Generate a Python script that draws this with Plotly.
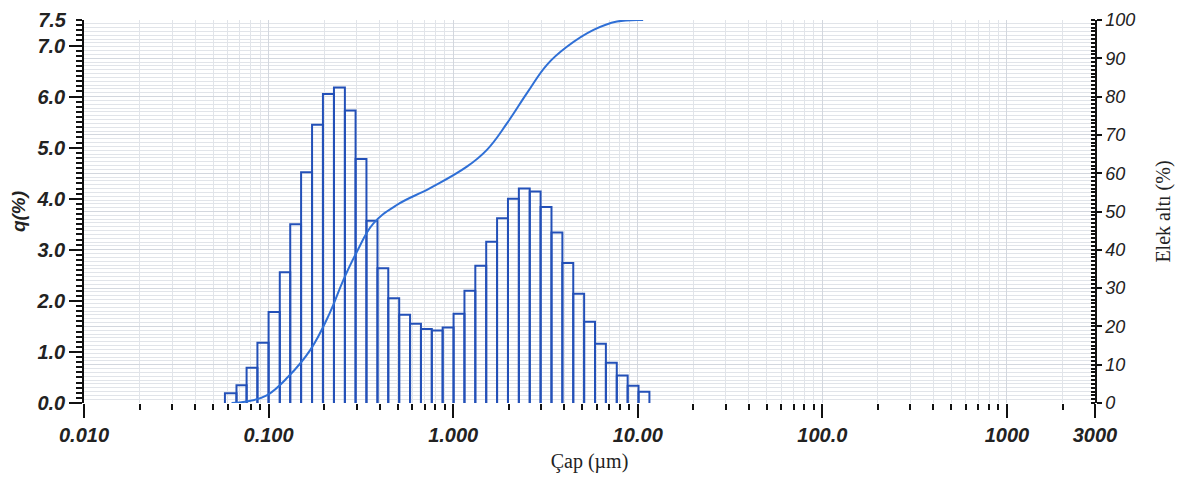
import plotly.graph_objects as go

# ---- data ----
bin_edges = [0.058, 0.067, 0.076, 0.087, 0.100, 0.115, 0.131, 0.150, 0.172, 0.197,
             0.226, 0.259, 0.296, 0.339, 0.389, 0.445, 0.510, 0.584, 0.669, 0.766,
             0.877, 1.005, 1.151, 1.318, 1.510, 1.729, 1.981, 2.269, 2.599, 2.976,
             3.409, 3.905, 4.472, 5.122, 5.867, 6.720, 7.697, 8.816, 10.097, 11.565]
q_values = [0.19, 0.35, 0.69, 1.18, 1.78, 2.56, 3.50, 4.52, 5.45, 6.05,
            6.18, 5.73, 4.78, 3.57, 2.64, 2.05, 1.73, 1.55, 1.45, 1.42,
            1.48, 1.75, 2.20, 2.69, 3.16, 3.62, 4.00, 4.20, 4.14, 3.84,
            3.34, 2.74, 2.14, 1.59, 1.16, 0.79, 0.54, 0.34, 0.22]

cum_size = [0.063, 0.076, 0.0977, 0.128, 0.168, 0.215, 0.254, 0.301, 0.370, 0.495,
            0.750, 1.186, 1.523, 1.955, 2.51, 3.22, 4.13, 5.76, 7.71, 10.7]
cum_pct = [0, 0.4, 2.0, 6.9, 13.8, 23.6, 32.1, 39.5, 46.9, 51.7,
           56.1, 61.7, 66.1, 73.0, 80.9, 88.3, 93.0, 97.4, 99.6, 100.0]

x_tickvals = [0.01, 0.1, 1, 10, 100, 1000, 3000]
x_ticktext = ["0.010", "0.100", "1.000", "10.00", "100.0", "1000", "3000"]
y_top_tick = [7.5]
y_top_text = ["7.5"]

BAR_COLOR = "#2350b8"
CURVE_COLOR = "#2f6fd6"
GRID = "#e1e4e9"

# build outline rectangles for the histogram bars
bx, by = [], []
for i, h in enumerate(q_values):
    x0, x1 = bin_edges[i], bin_edges[i + 1]
    bx += [x0, x0, x1, x1, None]
    by += [0, h, h, 0, None]

fig = go.Figure()
fig.add_trace(go.Scatter(x=bx, y=by, mode="lines",
                         line=dict(color=BAR_COLOR, width=2),
                         hoverinfo="skip", showlegend=False))
fig.add_trace(go.Scatter(x=cum_size, y=cum_pct, mode="lines", yaxis="y2",
                         line=dict(color=CURVE_COLOR, width=2, shape="spline", smoothing=1.2),
                         showlegend=False))
# invisible trace to activate the extra label axis
fig.add_trace(go.Scatter(x=[1], y=[0], yaxis="y3", mode="markers",
                         marker=dict(opacity=0), hoverinfo="skip", showlegend=False))

tick_font_b = dict(family="Liberation Sans, Arial", size=20, color="#222",
                   style="italic", weight="bold")

# page body has an 8px default margin, so the figure is sized to fit 1190x477
fig.update_layout(
    width=1182, height=469,
    margin=dict(l=76, r=95, t=12, b=74),
    paper_bgcolor="white", plot_bgcolor="white",
    xaxis=dict(
        type="log", range=[-2, 3.4771], automargin=False,
        tickmode="array", tickvals=x_tickvals, ticktext=x_ticktext,
        ticks="outside", ticklen=14, tickwidth=2, tickcolor="#111",
        tickfont=tick_font_b,
        showgrid=True, gridcolor="#d3d7de", gridwidth=1,
        showline=False, zeroline=False,
        minor=dict(dtick="D1", ticks="outside", ticklen=6, tickwidth=2,
                   tickcolor="#111", showgrid=True, gridcolor=GRID, gridwidth=1),
        title=dict(text="Çap (µm)", font=dict(family="Liberation Serif, Times New Roman",
                                               size=20, color="#222"), standoff=8),
    ),
    yaxis=dict(
        range=[0, 7.5], automargin=False,
        tickmode="linear", tick0=0, dtick=1, tickformat=".1f",
        ticks="outside", ticklen=13, tickwidth=2, tickcolor="#111",
        tickfont=tick_font_b, showgrid=False, zeroline=False,
        showline=True, linecolor="#111", linewidth=1.5,
        minor=dict(tick0=0, dtick=0.1, ticks="outside", ticklen=6,
                   tickwidth=2, tickcolor="#111", showgrid=False),
        title=dict(text="q(%)", font=dict(family="Liberation Sans, Arial", size=19,
                                          color="#222", style="italic", weight="bold"),
                   standoff=12),
    ),
    yaxis3=dict(
        overlaying="y", side="left", range=[0, 7.5], automargin=False,
        tickmode="array", tickvals=y_top_tick, ticktext=y_top_text,
        ticks="outside", ticklen=13, tickcolor="rgba(0,0,0,0)",
        tickfont=tick_font_b, showgrid=False, zeroline=False, showline=False,
    ),
    yaxis2=dict(
        overlaying="y", side="right", range=[0, 100], automargin=False,
        tickmode="linear", tick0=0, dtick=10,
        ticks="outside", ticklen=5, tickwidth=1.5, tickcolor="#111",
        tickfont=dict(family="Liberation Sans, Arial", size=18, color="#222", style="italic"),
        showgrid=True, gridcolor="#d3d7de", gridwidth=1, zeroline=False,
        showline=True, linecolor="#111", linewidth=1.5,
        minor=dict(tick0=0, dtick=1, ticks="inside", ticklen=4,
                   tickwidth=1.5, tickcolor="#111", showgrid=True, gridcolor=GRID, gridwidth=1),
        title=dict(text="Elek altı (%)", font=dict(family="Liberation Serif, Times New Roman",
                                                   size=20, color="#222"), standoff=22),
    ),
)

fig.write_html("out.html")
